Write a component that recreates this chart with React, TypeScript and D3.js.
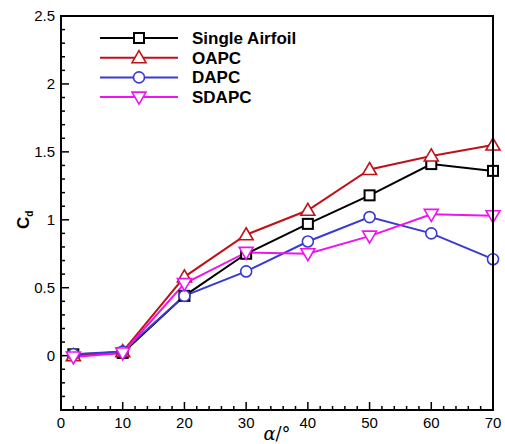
import React, { useRef, useEffect } from 'react';
import * as d3 from 'd3';

// angle of attack (deg)
const alphas = [2, 10, 20, 30, 40, 50, 60, 70];

// drag coefficient per configuration
const singleAirfoil = [0.01, 0.02, 0.44, 0.75, 0.97, 1.18, 1.41, 1.36];
const oapc = [0.0, 0.03, 0.58, 0.89, 1.07, 1.37, 1.47, 1.55];
const dapc = [0.01, 0.03, 0.44, 0.62, 0.84, 1.02, 0.9, 0.71];
const sdapc = [-0.01, 0.02, 0.53, 0.76, 0.75, 0.88, 1.04, 1.03];

const seriesNames = ['Single Airfoil', 'OAPC', 'DAPC', 'SDAPC'];
const xTickLabels = ['0', '10', '20', '30', '40', '50', '60', '70'];
const yTickLabels = ['0', '0.5', '1', '1.5', '2', '2.5'];

const App = () => {
  const ref = useRef<SVGSVGElement>(null);

  useEffect(() => {
    const width = 505;
    const height = 444;
    const margin = { top: 16, right: 12, bottom: 34, left: 61 };

    const svg = d3.select(ref.current);
    svg.selectAll('*').remove();
    svg.attr('width', width).attr('height', height);

    const x = d3.scaleLinear().domain([0, 70]).range([margin.left, width - margin.right]);
    const y = d3.scaleLinear().domain([-0.4, 2.5]).range([height - margin.bottom, margin.top]);

    const series = [
      { name: seriesNames[0], values: singleAirfoil, color: '#000000', marker: 'square' },
      { name: seriesNames[1], values: oapc, color: '#bf1218', marker: 'triangle' },
      { name: seriesNames[2], values: dapc, color: '#3a3ad2', marker: 'circle' },
      { name: seriesNames[3], values: sdapc, color: '#ee14ee', marker: 'invtriangle' },
    ];

    const drawMarker = (g: any, type: string, cx: number, cy: number, color: string) => {
      if (type === 'square') {
        g.append('rect').attr('x', cx - 5).attr('y', cy - 5).attr('width', 10).attr('height', 10)
          .attr('fill', 'white').attr('stroke', color).attr('stroke-width', 2);
      } else if (type === 'circle') {
        g.append('circle').attr('cx', cx).attr('cy', cy).attr('r', 5.5)
          .attr('fill', 'white').attr('stroke', color).attr('stroke-width', 1.6);
      } else if (type === 'triangle') {
        g.append('path').attr('d', `M${cx},${cy - 7}L${cx + 7},${cy + 5}L${cx - 7},${cy + 5}Z`)
          .attr('fill', 'white').attr('stroke', color).attr('stroke-width', 1.6);
      } else {
        g.append('path').attr('d', `M${cx},${cy + 7}L${cx + 7},${cy - 5}L${cx - 7},${cy - 5}Z`)
          .attr('fill', 'white').attr('stroke', color).attr('stroke-width', 1.6);
      }
    };

    // minor and major ticks (inward)
    const axes = svg.append('g').attr('stroke', '#000');
    d3.range(0, 71, 2).forEach((v) => {
      const len = v % 10 === 0 ? 8 : 4;
      axes.append('line').attr('x1', x(v)).attr('x2', x(v))
        .attr('y1', y(-0.4)).attr('y2', y(-0.4) - len).attr('stroke-width', 1.5);
    });
    d3.range(-4, 26, 1).forEach((i) => {
      const len = i % 5 === 0 ? 8 : 4;
      axes.append('line').attr('x1', x(0)).attr('x2', x(0) + len)
        .attr('y1', y(i / 10)).attr('y2', y(i / 10)).attr('stroke-width', 1.5);
    });

    // tick labels
    xTickLabels.forEach((t) => {
      svg.append('text').attr('x', x(+t)).attr('y', y(-0.4) + 18)
        .attr('text-anchor', 'middle').attr('font-family', 'Liberation Sans, Arial, sans-serif')
        .attr('font-size', 15).text(t);
    });
    yTickLabels.forEach((t) => {
      svg.append('text').attr('x', x(0) - 6).attr('y', y(+t) + 5)
        .attr('text-anchor', 'end').attr('font-family', 'Liberation Sans, Arial, sans-serif')
        .attr('font-size', 15).text(t);
    });

    // axis titles
    const xt = svg.append('text').attr('x', x(35)).attr('y', 440).attr('text-anchor', 'middle')
      .attr('font-family', 'DejaVu Serif, serif').attr('font-size', 18);
    xt.append('tspan').attr('font-style', 'italic').text('α');
    xt.append('tspan').text('/°');

    const yt = svg.append('text').attr('transform', `translate(29,${y(1)}) rotate(-90)`)
      .attr('text-anchor', 'middle').attr('font-family', 'Liberation Sans, Arial, sans-serif')
      .attr('font-weight', 'bold').attr('font-size', 17);
    yt.append('tspan').text('C');
    yt.append('tspan').attr('font-size', 10).attr('dy', 4).text('d');

    // lines and markers
    const line = d3.line<number>().x((_, i) => x(alphas[i])).y((d) => y(d));
    const plot = svg.append('g');
    series.forEach((s) => {
      plot.append('path').datum(s.values).attr('d', line)
        .attr('fill', 'none').attr('stroke', s.color).attr('stroke-width', 2);
    });
    series.forEach((s) => {
      const g = plot.append('g');
      s.values.forEach((v, i) => drawMarker(g, s.marker, x(alphas[i]), y(v), s.color));
    });

    // frame
    svg.append('rect').attr('x', x(0)).attr('y', y(2.5))
      .attr('width', x(70) - x(0)).attr('height', y(-0.4) - y(2.5))
      .attr('fill', 'none').attr('stroke', '#000').attr('stroke-width', 2);

    // legend
    const legend = svg.append('g');
    series.forEach((s, i) => {
      const ly = 38 + i * 19.7;
      legend.append('line').attr('x1', 100).attr('x2', 178).attr('y1', ly).attr('y2', ly)
        .attr('stroke', s.color).attr('stroke-width', 2);
      drawMarker(legend, s.marker, 139, ly, s.color);
      legend.append('text').attr('x', 192).attr('y', ly + 6)
        .attr('font-family', 'Liberation Sans, Arial, sans-serif').attr('font-weight', 'bold')
        .attr('font-size', 17).text(s.name);
    });
  }, []);

  return <svg ref={ref} style={{ position: 'absolute', left: 0, top: 0 }}></svg>;
};

export default App;
